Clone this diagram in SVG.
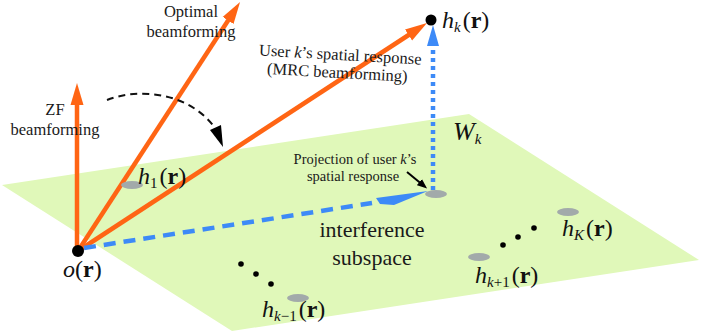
<svg xmlns="http://www.w3.org/2000/svg" width="702" height="333" viewBox="0 0 702 333" font-family="'Liberation Serif','DejaVu Serif','Times New Roman',serif">
<style>
.t{font-family:'Liberation Serif','DejaVu Serif','Times New Roman',serif;fill:#1a1a1a}
.m{font-family:'Liberation Serif','DejaVu Serif','Times New Roman',serif;font-size:24px;fill:#111}
.i{font-style:italic}
.b{font-weight:bold}
.s{font-size:15px;font-style:italic}
.n{font-style:normal}
.or{stroke:#FF6514;stroke-width:4.5;fill:none}
.ell{fill:#A2AAAA}
.dot{fill:#000}
</style>
<defs>
<marker id="ao" markerWidth="24" markerHeight="16" refX="12" refY="8" orient="auto" markerUnits="userSpaceOnUse">
<path d="M0,1.5 L22,8 L0,14.5 z" fill="#FF6514"/>
</marker>
<marker id="ak" markerWidth="12" markerHeight="10" refX="6" refY="5" orient="auto" markerUnits="userSpaceOnUse">
<path d="M0,1 L10,5 L0,9 z" fill="#000"/>
</marker>
</defs>
<g id="plane">
<polygon points="2,185 469,114 699,260 232,331" fill="#E0F8B9"/>
</g>
<g id="connectors">
<line class="or" x1="77" y1="251" x2="77" y2="93" marker-end="url(#ao)"/>
<line class="or" x1="78" y1="251" x2="234.6" y2="10.4" marker-end="url(#ao)"/>
<line class="or" x1="78" y1="251" x2="418.6" y2="28.5" marker-end="url(#ao)"/>
<line x1="84" y1="248" x2="372" y2="203" stroke="#3D8AF7" stroke-width="4.5" stroke-dasharray="12 8"/>
<polygon points="376,198 428,191 394,205 380,204" fill="#3D8AF7"/>
<line x1="433" y1="190" x2="433" y2="44" stroke="#3D8AF7" stroke-width="4.5" stroke-dasharray="4 4"/>
<polygon points="433,25 439,46 427,46" fill="#3D8AF7"/>
<path d="M107,100 C140,87 190,93 215,128" fill="none" stroke="#111" stroke-width="2" stroke-dasharray="7 5"/>
<polygon points="223,147 210,130 221,125" fill="#000"/>
<line x1="407" y1="172" x2="424" y2="186" stroke="#000" stroke-width="2" marker-end="url(#ak)"/>
</g>
<g id="projection">
<ellipse class="ell" cx="436" cy="194" rx="11" ry="4"/>
</g>
<g id="origin">
<circle class="dot" cx="78" cy="251" r="6"/>
<text class="m" x="63" y="277"><tspan class="i">o</tspan>(<tspan class="b">r</tspan>)</text>
</g>
<g id="hk">
<circle class="dot" cx="431" cy="20" r="5.5"/>
<text class="m" x="442" y="28"><tspan class="i">h</tspan><tspan class="s" dy="4">k</tspan><tspan dy="-4" dx="2">(</tspan><tspan class="b">r</tspan>)</text>
</g>
<g id="h1">
<ellipse class="ell" cx="132" cy="185" rx="11" ry="4"/>
<text class="m" x="138" y="184"><tspan class="i">h</tspan><tspan class="s n" dy="4">1</tspan><tspan dy="-4" dx="2">(</tspan><tspan class="b">r</tspan>)</text>
</g>
<g id="hkm1">
<ellipse class="ell" cx="298" cy="298" rx="11" ry="4"/>
<text class="m" x="262" y="317"><tspan class="i">h</tspan><tspan class="s" dy="4">k</tspan><tspan font-size="15px">−1</tspan><tspan dy="-4" dx="2">(</tspan><tspan class="b">r</tspan>)</text>
</g>
<g id="hkp1">
<ellipse class="ell" cx="479" cy="257" rx="11" ry="4"/>
<text class="m" x="475" y="283"><tspan class="i">h</tspan><tspan class="s" dy="4">k</tspan><tspan font-size="15px">+1</tspan><tspan dy="-4" dx="2">(</tspan><tspan class="b">r</tspan>)</text>
</g>
<g id="hK">
<ellipse class="ell" cx="568" cy="212" rx="11" ry="4"/>
<text class="m" x="562" y="236"><tspan class="i">h</tspan><tspan class="s" dy="4">K</tspan><tspan dy="-4" dx="2">(</tspan><tspan class="b">r</tspan>)</text>
</g>
<g id="dots">
<circle class="dot" cx="241" cy="264" r="2.8"/>
<circle class="dot" cx="256" cy="274" r="2.8"/>
<circle class="dot" cx="271" cy="284" r="2.8"/>
<circle class="dot" cx="503" cy="245" r="2.8"/>
<circle class="dot" cx="518" cy="237" r="2.8"/>
<circle class="dot" cx="534" cy="228" r="2.8"/>
</g>
<g id="labels">
<text class="m" x="453" y="140"><tspan class="i" font-size="26px">W</tspan><tspan class="s" dy="4">k</tspan></text>
<text class="t" x="372" y="237" font-size="22" text-anchor="middle">interference</text>
<text class="t" x="372" y="265" font-size="22" text-anchor="middle">subspace</text>
<text class="t" x="355" y="164" font-size="14.5" text-anchor="middle">Projection of user <tspan class="i">k</tspan>’s</text>
<text class="t" x="353" y="181" font-size="14.5" text-anchor="middle">spatial response</text>
<text class="t" x="191" y="17" font-size="16.5" text-anchor="middle">Optimal</text>
<text class="t" x="191" y="37" font-size="16.5" text-anchor="middle">beamforming</text>
<text class="t" x="55" y="115" font-size="16.5" text-anchor="middle">ZF</text>
<text class="t" x="55" y="135" font-size="16.5" text-anchor="middle">beamforming</text>
<g transform="rotate(3.2 340 60)">
<text class="t" x="340" y="60" font-size="16.5" text-anchor="middle">User <tspan class="i">k</tspan>’s spatial response</text>
<text class="t" x="338" y="78" font-size="16.5" text-anchor="middle">(MRC beamforming)</text>
</g>
</g>
</svg>
